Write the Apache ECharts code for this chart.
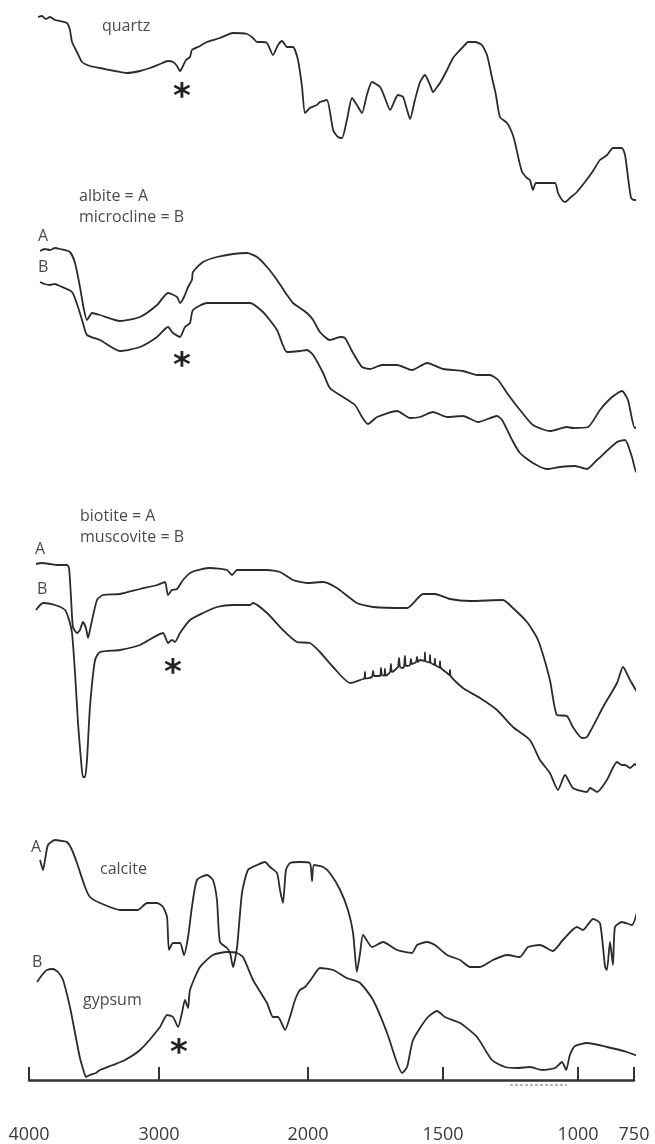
<!DOCTYPE html>
<html>
<head>
<meta charset="utf-8">
<script src="https://cdn.jsdelivr.net/npm/echarts@6/dist/echarts.min.js"></script>
<style>
  html, body { margin: 0; background: #fff; }
  #main { width: 655px; height: 1144px; }
</style>
</head>
<body>
<div id="main"></div>
<script>
// axis: wavenumber (cm-1), the printed scale is not linear so ticks carry their own spacing
const tickWn = [4000, 3000, 2000, 1500, 1000, 750];
const tickPos = [0, 130, 279, 414, 549, 605];
const tickLabels = ['4000', '3000', '2000', '1500', '1000', '750'];

// spectra as [wavenumber, relative transmittance]
const quartz = [[3931,96.5],[3900,97],[3870,95.5],[3838,96.5],[3800,95],[3762,94.5],[3708,93.5],[3685,90],[3669,84],[3631,79],[3592,74],[3531,72],[3454,71],[3338,69.5],[3246,68.5],[3146,69.5],[3069,71],[2993,73],[2940,74.5],[2906,74],[2879,72],[2859,69.5],[2839,72],[2819,75],[2792,76.5],[2779,80],[2725,82],[2678,84],[2591,86],[2503,88.5],[2409,88],[2369,86],[2342,84],[2309,84],[2275,83.5],[2235,77.5],[2201,82.5],[2174,84.5],[2141,81.5],[2101,81.5],[2067,75],[2040,61.5],[2020,48.5],[1993,51],[1967,52.5],[1956,54],[1930,55],[1907,40],[1889,36.5],[1874,36],[1856,45],[1837,56],[1819,52.5],[1800,48.5],[1782,57.5],[1763,64],[1733,61.5],[1715,56],[1696,50],[1678,55],[1667,57.5],[1648,56.5],[1633,50],[1622,45.5],[1604,55],[1585,64],[1567,67.5],[1548,62.5],[1537,59],[1522,61.5],[1511,63.5],[1485,70],[1463,76],[1444,79],[1426,81.5],[1407,84],[1381,84],[1356,82.5],[1337,77.5],[1319,66.5],[1304,57.5],[1289,46.5],[1263,43.5],[1244,38.5],[1233,33.5],[1219,25],[1207,19],[1189,16],[1178,15],[1167,10],[1156,13.5],[1122,13.5],[1085,13.5],[1074,8.5],[1059,5],[1048,4],[1030,6],[1004,9],[969,14],[933,19.5],[902,25],[870,27.5],[844,31],[804,31],[790,27.5],[777,16.5],[763,6],[750,5],[732,5],[710,22.5]];

const albite = [[3915,91.6],[3880,92.4],[3838,92],[3800,92.8],[3762,92.4],[3685,91.2],[3646,86.8],[3608,77.2],[3577,68],[3554,64],[3515,66.8],[3454,66],[3300,63.6],[3146,65.2],[3015,70],[2940,74.8],[2879,73.2],[2859,70.8],[2832,73.2],[2805,77.2],[2779,80],[2772,83.2],[2705,87.2],[2611,89.2],[2503,90.4],[2409,90.8],[2342,89.2],[2275,85.2],[2208,80],[2141,74],[2101,70.8],[2054,68.8],[2007,66.8],[1981,64],[1956,59.2],[1919,56],[1881,57.2],[1863,56.8],[1833,50.8],[1800,45.2],[1770,44.4],[1726,46],[1670,46],[1615,44],[1559,46.8],[1500,44.4],[1426,43.6],[1374,42],[1326,42],[1296,40],[1263,34.8],[1215,28],[1167,22],[1104,19.6],[1041,21.2],[1019,20.8],[955,21.2],[902,28],[848,33.2],[804,35.6],[777,32],[746,20.8],[723,22],[701,20.8]];

const microcline = [[3915,79.2],[3880,78.4],[3838,78],[3800,78.4],[3762,77.6],[3669,75.2],[3623,69.2],[3585,62.8],[3554,58],[3454,56],[3300,51.6],[3146,53.2],[3015,57.2],[2940,61.2],[2906,58.8],[2859,57.2],[2826,61.2],[2792,62.8],[2772,68],[2678,70.8],[2503,70.8],[2389,70.8],[2302,67.2],[2208,60],[2141,51.2],[2054,51.6],[2007,52],[1981,50],[1944,42.8],[1919,36.8],[1870,33.2],[1826,30],[1800,25.2],[1778,22.4],[1744,25.2],[1670,27.6],[1622,24.8],[1585,25.2],[1537,27.2],[1485,25.2],[1426,25.6],[1370,23.2],[1300,25.6],[1281,24],[1244,16],[1215,10.8],[1167,6.8],[1115,4.4],[1067,5.2],[1011,5.6],[960,4.4],[915,8],[826,15.2],[790,16],[759,9.2],[737,2.8],[701,4.4]];

const biotite = [[3946,92.4],[3900,92.8],[3838,92.4],[3780,92],[3708,92],[3692,90.8],[3677,79.2],[3662,67.2],[3631,64.8],[3608,66],[3585,69.2],[3562,66.8],[3546,62.8],[3523,68],[3477,78],[3431,80],[3300,80.4],[3146,82.4],[3015,84],[2960,85.2],[2940,80],[2913,82],[2879,82.4],[2839,86],[2779,89.2],[2658,90.8],[2544,90],[2510,88],[2476,90],[2389,90],[2275,90],[2188,89.2],[2101,86],[2007,84.8],[1944,85.2],[1893,82.8],[1819,76.8],[1759,75.2],[1633,74.8],[1574,80.4],[1530,80.4],[1474,78.4],[1400,77.6],[1278,78],[1241,74.8],[1189,69.2],[1148,62],[1104,46],[1078,32],[1041,31.6],[1019,27.2],[982,22.8],[960,23.2],[888,35.2],[826,44.8],[799,51.2],[768,46],[723,39.2]];

const muscovite = [[3946,74],[3892,76.8],[3800,76],[3723,74],[3692,70],[3669,64.8],[3646,48.8],[3623,28.8],[3600,14],[3585,7.2],[3569,7.2],[3554,14],[3531,35.2],[3492,54],[3454,57.2],[3300,58],[3146,60],[2973,64.8],[2940,60.8],[2913,62],[2893,61.2],[2859,64.8],[2792,70],[2705,72.8],[2611,75.2],[2503,76],[2389,76],[2369,76.8],[2275,72.8],[2168,66],[2074,61.2],[1993,60.8],[1956,57.2],[1907,51.2],[1844,44.8],[1796,46.4],[1791,46.6],[1789,49.2],[1787,46.6],[1763,47.2],[1759,49.6],[1755,47.6],[1733,47.6],[1730,50.8],[1726,48],[1717,47.8],[1715,50.5],[1713,47.8],[1707,48],[1696,49.2],[1693,52.4],[1689,49.2],[1667,51.2],[1663,54.8],[1659,51.2],[1648,50.8],[1644,51.6],[1641,55.6],[1637,51.6],[1622,52],[1619,54.4],[1615,52.4],[1600,53.2],[1596,55.2],[1593,53.2],[1585,54],[1569,53.6],[1567,57],[1565,53.6],[1550,53],[1548,56],[1546,53],[1532,52],[1530,54.5],[1528,52],[1513,51],[1511,53.5],[1509,51],[1485,48.8],[1476,48],[1474,50],[1472,47.6],[1426,42.8],[1363,38.8],[1300,34],[1241,27.2],[1178,22],[1141,14],[1104,8.8],[1074,2],[1048,8],[1019,2.8],[960,1.2],[946,2.8],[915,1.2],[871,6],[826,13.2],[804,12],[790,12],[768,10.8],[746,12.4],[714,4.8]];

const calcite = [[3915,88],[3892,84],[3877,88],[3854,94],[3800,96],[3746,95.6],[3708,95.2],[3669,92],[3631,86.8],[3569,77.2],[3531,73.2],[3454,70.8],[3300,68],[3162,68],[3092,70.8],[3015,70.8],[2973,69.2],[2946,65.2],[2933,52],[2906,54.8],[2859,54.8],[2832,50],[2805,57.2],[2779,69.2],[2745,80],[2678,82],[2638,80],[2611,72],[2591,55.2],[2544,52.8],[2523,50.8],[2503,45.2],[2476,53.2],[2443,74.8],[2403,84],[2342,86],[2289,87.2],[2255,85.2],[2208,82.8],[2188,76],[2168,70.8],[2148,84],[2121,86.8],[2054,87.2],[1993,86.8],[1985,79.6],[1978,86],[1944,85.2],[1919,82.8],[1881,76],[1852,68],[1833,58.8],[1819,43.2],[1807,50.8],[1796,58],[1763,53.2],[1722,55.2],[1670,52],[1615,50.8],[1596,54],[1559,55.2],[1530,54],[1485,50],[1437,48],[1400,45.2],[1363,45.2],[1315,48],[1263,50],[1215,49.2],[1185,53.2],[1141,54],[1093,51.6],[1056,56],[1004,61.2],[978,60],[933,64.4],[902,62.8],[879,45.2],[871,44],[857,55.2],[844,46],[835,61.2],[804,63.2],[759,62],[732,68.8]];

const gypsum = [[3938,39.2],[3900,42],[3862,44],[3815,44.4],[3777,43.2],[3738,40],[3685,29.2],[3646,18.8],[3608,8.8],[3577,3.2],[3562,1.2],[3531,2],[3485,2.8],[3454,4],[3354,6],[3262,8],[3146,12],[2993,21.2],[2946,26],[2906,25.2],[2872,21.2],[2846,26.8],[2826,32],[2805,28.8],[2792,36],[2725,45.2],[2638,50],[2544,51.2],[2477,50.8],[2436,49.2],[2369,40],[2275,30.8],[2235,25.2],[2201,25.2],[2154,20],[2121,25.2],[2087,32],[2054,36],[2020,37.2],[1985,40.8],[1956,44.8],[1907,44],[1856,40.8],[1807,38.8],[1759,32],[1707,18.8],[1674,8],[1652,2.8],[1633,5.2],[1611,16],[1559,24.8],[1522,27.6],[1493,25.2],[1437,22.8],[1374,17.2],[1319,8],[1270,5.2],[1226,4.8],[1178,5.2],[1133,4],[1085,4.8],[1059,7.2],[1044,4],[1030,10],[1011,13.6],[960,14.8],[871,13.2],[781,11.2],[723,9.2]];

// dashed bracket under gypsum
const dashRange = [1252, 1041];

function wnToPos(wn) {
  let i = 0;
  if (wn <= tickWn[tickWn.length - 2]) i = tickWn.length - 2;
  else {
    while (i < tickWn.length - 2 && wn < tickWn[i + 1]) i++;
  }
  const w0 = tickWn[i], w1 = tickWn[i + 1];
  return tickPos[i] + (w0 - wn) / (w0 - w1) * (tickPos[i + 1] - tickPos[i]);
}

const chart = echarts.init(document.getElementById('main'));
const lineColor = '#2b2b2b';
const textColor = '#4a4a4a';

// outerBoundsMode none: keep the grids where they are, labels may sit near the edge
const grids = [
  { left: 29, width: 605, top: 10, height: 200, outerBoundsMode: 'none' },
  { left: 29, width: 605, top: 230, height: 250, outerBoundsMode: 'none' },
  { left: 29, width: 605, top: 545, height: 250, outerBoundsMode: 'none' },
  { left: 29, width: 605, top: 830, height: 250, outerBoundsMode: 'none' }
];

const tickPosValues = tickWn.map(wnToPos);

const xAxes = grids.map((g, i) => {
  const last = i === grids.length - 1;
  return {
    type: 'value', gridIndex: i, min: 0, max: 605,
    show: last, position: 'bottom', offset: 35,
    splitLine: { show: false },
    axisLine: { show: true, lineStyle: { color: '#333', width: 2.5 } },
    axisTick: {
      show: true, inside: true, length: 13,
      customValues: tickPosValues,
      lineStyle: { color: '#333', width: 2 }
    },
    axisLabel: {
      show: true, margin: 11,
      customValues: tickPosValues,
      color: '#3a3a3a', fontSize: 18, fontFamily: 'Open Sans',
      formatter: function (v) {
        const k = tickPosValues.findIndex(p => Math.abs(p - v) < 0.5);
        return k >= 0 ? tickLabels[k] : '';
      }
    }
  };
});

const yAxes = grids.map((g, i) => ({
  type: 'value', gridIndex: i, min: 0, max: 100, show: false
}));

function spectrum(name, data, idx) {
  return {
    name: name, type: 'line', xAxisIndex: idx, yAxisIndex: idx,
    data: data.map(p => [wnToPos(p[0]), p[1]]),
    symbol: 'none', smooth: 0.2, clip: false, silent: true,
    lineStyle: { color: lineColor, width: 1.8 }
  };
}

const series = [
  spectrum('quartz', quartz, 0),
  spectrum('albite', albite, 1),
  spectrum('microcline', microcline, 1),
  spectrum('biotite', biotite, 2),
  spectrum('muscovite', muscovite, 2),
  spectrum('calcite', calcite, 3),
  spectrum('gypsum', gypsum, 3),
  {
    name: 'range', type: 'line', xAxisIndex: 3, yAxisIndex: 3,
    data: dashRange.map(w => [wnToPos(w), -2]),
    symbol: 'none', clip: false, silent: true,
    lineStyle: { color: '#666', width: 1.2, type: [3, 2] }
  }
];

function label(text, x, y) {
  return {
    type: 'text', left: x, top: y,
    style: { text: text, fill: textColor, font: '16px "Open Sans"' }
  };
}
function star(x, y) {
  return {
    type: 'text', x: x, y: y,
    style: { text: '*', fill: '#222', font: 'bold 34px "DejaVu Sans"', align: 'center', verticalAlign: 'middle' }
  };
}

chart.setOption({
  backgroundColor: '#fff',
  animation: false,
  grid: grids,
  xAxis: xAxes,
  yAxis: yAxes,
  series: series,
  graphic: [
    label('quartz', 102, 18),
    label('albite = A', 79, 188),
    label('microcline = B', 79, 209),
    label('A', 38, 228),
    label('B', 38, 259),
    label('biotite = A', 80, 508),
    label('muscovite = B', 80, 529),
    label('A', 35, 541),
    label('B', 37, 581),
    label('A', 31, 839),
    label('calcite', 100, 861),
    label('B', 32, 954),
    label('gypsum', 83, 992),
    star(182, 98),
    star(182, 367),
    star(173, 674),
    star(179, 1054)
  ]
});
</script>
</body>
</html>
